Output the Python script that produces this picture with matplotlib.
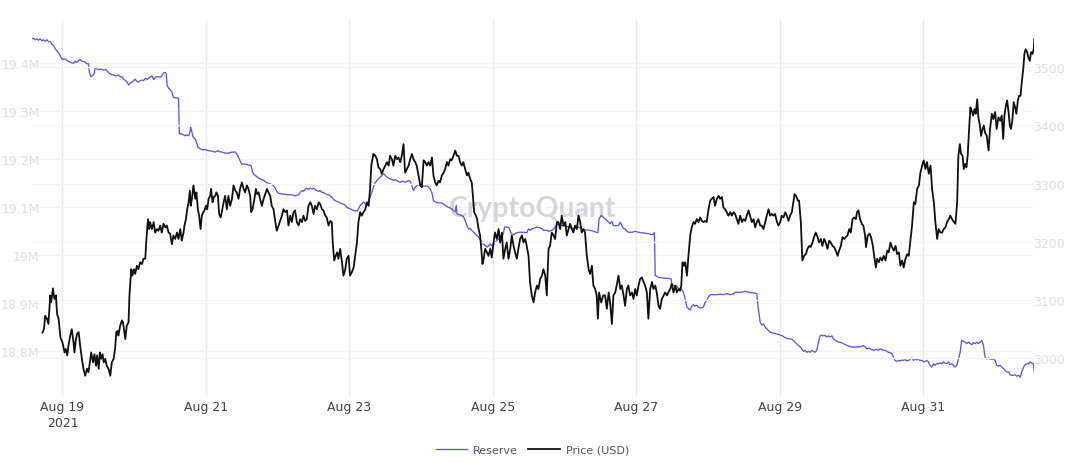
import numpy as np
import pandas as pd
import matplotlib
matplotlib.use("Agg")
import matplotlib.pyplot as plt
from matplotlib.ticker import FuncFormatter, FixedLocator

# ---------------- data ----------------
base_time = "2021-08-19 00:00"

# Price (USD): hours since Aug 19 00:00 and price
price_hours = [
    -6.7, -6.2, -5.8, -5.2, -4.7, -4.1, -3.8, -3.2, -2.7, -2.2, -1.8, -1.3, -0.7, 0.0, 0.7, 1.1, 1.6, 2.0, 2.6, 3.1,
    3.7, 4.0, 4.5, 4.9, 5.4, 5.9, 6.5, 7.0, 7.6, 8.2, 8.7, 9.3, 9.6, 10.2, 10.7, 11.2, 11.6, 12.1, 12.5, 12.9,
    13.4, 13.8, 14.3, 14.8, 15.4, 16.0, 16.5, 17.1, 17.6, 18.0, 18.4, 18.7, 19.3, 19.9, 20.2, 20.5, 21.0, 21.5, 22.1, 22.4,
    23.0, 23.4, 23.9, 24.3, 24.9, 25.4, 26.0, 26.6, 27.1, 27.7, 28.0, 28.6, 29.0, 29.3, 29.9, 30.5, 31.0, 31.6, 32.1, 32.7,
    33.2, 33.8, 34.4, 34.9, 35.5, 36.0, 36.6, 37.1, 37.7, 38.3, 38.8, 39.4, 39.9, 40.5, 40.8, 41.3, 41.7, 42.2, 42.6, 42.9,
    43.3, 43.8, 44.4, 44.8, 45.3, 45.7, 46.2, 46.6, 47.1, 47.5, 48.0, 48.4, 48.9, 49.4, 49.7, 50.2, 50.6, 51.1, 51.5, 52.0,
    52.4, 52.9, 53.3, 53.9, 54.4,
    55.0, 55.5, 56.1, 56.7, 57.2, 57.8, 58.3, 58.9, 59.4, 60.0, 60.6, 61.1, 61.7, 62.2, 62.8, 63.1, 63.6, 64.2, 64.7, 65.1,
    65.6, 66.1, 66.7, 67.3, 67.8, 68.4, 68.9, 69.5, 70.0, 70.6, 71.2, 71.7, 72.3, 72.8, 73.4, 73.9, 74.5, 75.1, 75.6, 76.2,
    76.7, 77.3, 77.8, 78.4, 79.0, 79.5, 80.1, 80.6, 81.2, 81.7, 82.3, 82.9, 83.4, 84.0, 84.5, 85.1, 85.7, 86.2, 86.8, 87.3,
    87.9, 88.4, 89.0, 89.6, 90.1, 90.4, 90.9, 91.4, 91.9, 92.3, 92.9, 93.5, 94.0, 94.6, 95.1, 95.7, 96.2, 96.8, 97.4, 97.9,
    98.5, 99.0, 99.6, 100.1, 100.7, 101.3, 101.8, 102.4, 102.9, 103.3, 104.0, 104.6, 105.2, 105.7, 106.3, 106.8, 107.4, 108.0, 108.5, 109.1,
    109.6, 110.2, 110.7, 111.3, 111.9, 112.4, 113.0, 113.5, 114.1, 114.6, 115.2, 115.8, 116.3, 116.9, 117.4,
    118.0, 118.5, 119.1, 119.7, 120.2, 120.8, 121.3, 121.9, 122.4, 123.0, 123.6, 124.1, 124.7, 125.2, 125.8, 126.3, 126.9, 127.5, 128.0, 128.6,
    129.1, 129.7, 130.2, 130.8, 131.4, 131.9, 132.5, 133.0, 133.6, 134.1, 134.7, 135.3, 135.8, 136.4, 136.9, 137.3, 137.7, 138.3, 138.7, 139.2,
    139.7, 140.1, 140.5, 140.9, 141.4, 142.0, 142.5, 143.1, 143.6, 144.2, 144.7, 145.3, 145.9, 146.4, 147.0, 147.5, 148.1, 148.6, 149.2, 149.8,
    150.3, 150.9, 151.4, 152.0, 152.5, 153.1, 153.7, 154.2, 154.8, 155.3, 155.9, 156.4, 157.0, 157.6, 158.1, 158.7, 159.2, 159.8, 160.4, 160.9,
    161.5, 162.0, 162.6, 163.1, 163.7, 164.3, 164.8, 165.4, 165.9, 166.5, 167.0, 167.6, 168.2, 168.7, 169.3, 169.8, 170.4, 170.9, 171.5, 172.1,
    172.6, 173.2, 173.7, 174.3, 174.8, 175.4, 176.0, 176.5, 177.1, 177.6, 178.2, 178.7, 179.1, 179.5, 180.2, 180.9,
    181.5, 182.1, 182.7, 183.2, 183.8, 184.3, 184.9, 185.4, 186.0, 186.6, 187.1, 187.7, 188.2, 188.8, 189.3, 189.9, 190.5, 191.0, 191.6, 192.1,
    192.7, 193.2, 193.8, 194.4, 194.9, 195.5, 196.0, 196.6, 197.2, 197.7, 198.3, 198.8, 199.4, 199.9, 200.5, 201.1, 201.6, 202.2, 202.7, 203.3,
    203.8, 204.4, 205.0, 205.5, 206.1, 206.6, 207.0, 207.4, 207.9, 208.3, 208.9, 209.4, 210.0, 210.5, 211.1, 211.6, 212.2, 212.8, 213.3, 213.9,
    214.4, 215.0, 215.5, 216.1, 216.7, 217.2, 217.8, 218.3, 218.9, 219.5, 220.0, 220.6, 221.1, 221.7, 222.2, 222.8, 223.4, 223.9, 224.5, 225.0,
    225.6, 226.1, 226.7, 227.3, 227.8, 228.4, 228.9, 229.5, 230.0, 230.6, 231.2, 231.7, 232.3, 232.8, 233.4, 233.9, 234.5, 235.1, 235.6, 236.2,
    236.7, 237.3, 237.8, 238.4, 239.0, 239.5, 240.1, 240.6, 241.2, 241.8, 242.3, 242.9, 243.4, 244.0, 244.5,
    244.9, 245.4, 246.0, 246.4, 247.0, 247.5, 248.1, 248.7, 249.2, 249.8, 250.3, 250.9, 251.4, 252.0, 252.6, 253.1, 253.7, 254.2, 254.8, 255.3,
    255.9, 256.5, 257.0, 257.6, 258.1, 258.7, 259.3, 259.8, 260.4, 260.9, 261.5, 262.0, 262.6, 263.2, 263.7, 264.3, 264.8, 265.4, 265.8, 266.3,
    266.8, 267.4, 267.9, 268.5, 268.8, 269.4, 270.0, 270.5, 271.1, 271.6, 272.1, 272.5, 273.1, 273.6, 274.2, 274.7, 275.3, 275.9, 276.4, 277.0,
    277.5, 278.1, 278.7, 279.2, 279.8, 280.3, 280.9, 281.4, 282.0, 282.6, 283.1, 283.7, 284.2, 284.8, 285.3, 285.9, 286.5, 287.0, 287.6, 288.1,
    288.7, 289.2, 289.8, 290.4, 290.9, 291.5, 292.0, 292.6, 293.1, 293.7, 294.3, 294.8, 295.4, 295.9, 296.5, 297.0, 297.6, 298.2, 298.7, 299.3,
    299.7, 300.2, 300.6, 301.1, 301.5, 302.0, 302.4, 302.8, 303.3, 303.7, 304.2, 304.6, 305.1, 305.5, 306.0, 306.4, 306.9, 307.3, 307.8, 308.2,
    308.6, 309.2, 309.8, 310.3, 310.9, 311.4, 312.0, 312.5, 313.1, 313.7, 314.2, 314.7, 315.1, 315.6, 316.0, 316.5, 316.9, 317.3, 317.8, 318.2,
    318.7, 319.1, 319.6, 320.0, 320.5, 320.9, 321.4, 321.8, 322.2, 322.7, 323.1, 323.6, 324.0, 324.5, 324.9, 325.1,
]
price_usd = [
    3044, 3050, 3073, 3068, 3059, 3108, 3096, 3120, 3102, 3108, 3076, 3068, 3036, 3027, 3010, 3016, 3005, 3022, 3039, 3050,
    3027, 3010, 3033, 3042, 3045, 3022, 2999, 2982, 2970, 2982, 2976, 2999, 3010, 2993, 3007, 2987, 3005, 2982, 3010, 2999,
    3007, 2993, 2999, 2987, 2982, 2970, 2993, 2999, 3016, 3045, 3047, 3039, 3056, 3065, 3062, 3053, 3033, 3056, 3062, 3108,
    3153, 3142, 3153, 3145, 3159, 3153, 3165, 3162, 3171, 3171, 3199, 3239, 3222, 3234, 3222, 3234, 3216, 3222, 3219, 3228,
    3216, 3231, 3225, 3228, 3216, 3214, 3196, 3211, 3205, 3216, 3205, 3222, 3202, 3216, 3228, 3239, 3256, 3268, 3288, 3262,
    3274, 3297, 3274, 3285, 3256, 3245, 3222, 3245, 3251, 3254, 3262, 3256, 3274, 3279, 3291, 3268, 3277, 3279, 3285, 3279,
    3248, 3242, 3251, 3268, 3279,
    3256, 3279, 3262, 3274, 3297, 3288, 3285, 3274, 3291, 3302, 3291, 3285, 3297, 3291, 3279, 3251, 3256, 3274, 3291, 3282,
    3285, 3274, 3262, 3274, 3282, 3291, 3285, 3279, 3262, 3256, 3234, 3219, 3228, 3236, 3245, 3256, 3251, 3254, 3228, 3245,
    3234, 3251, 3254, 3234, 3228, 3239, 3234, 3245, 3236, 3239, 3262, 3268, 3262, 3248, 3262, 3256, 3268, 3265, 3256, 3254,
    3245, 3242, 3228, 3236, 3234, 3199, 3168, 3176, 3182, 3171, 3188, 3165, 3142, 3153, 3171, 3176, 3142, 3148, 3156, 3176,
    3199, 3234, 3251, 3245, 3251, 3256, 3268, 3262, 3291, 3331, 3351, 3348, 3342, 3328, 3325, 3317, 3325, 3331, 3337, 3331,
    3348, 3342, 3331, 3348, 3342, 3345, 3337, 3348, 3368, 3319, 3325, 3331, 3342, 3351, 3342,
    3337, 3331, 3314, 3297, 3294, 3340, 3337, 3331, 3337, 3331, 3345, 3314, 3302, 3297, 3305, 3302, 3314, 3319, 3325, 3337,
    3331, 3342, 3340, 3348, 3357, 3348, 3348, 3337, 3331, 3337, 3325, 3314, 3319, 3308, 3302, 3279, 3251, 3245, 3239, 3222,
    3211, 3188, 3162, 3171, 3188, 3182, 3176, 3188, 3173, 3199, 3216, 3205, 3222, 3199, 3216, 3171, 3188, 3199, 3171, 3188,
    3211, 3193, 3182, 3171, 3188, 3205, 3211, 3199, 3205, 3193, 3176, 3131, 3108, 3096, 3113, 3125, 3119, 3136, 3142, 3153,
    3142, 3108, 3188, 3193, 3216, 3211, 3205, 3234, 3234, 3222, 3245, 3228, 3234, 3211, 3222, 3231, 3222, 3216, 3228, 3222,
    3245, 3234, 3216, 3222, 3216, 3176, 3153, 3145, 3159, 3125, 3119, 3108, 3068, 3113, 3096, 3108,
    3108, 3085, 3113, 3096, 3059, 3108, 3113, 3125, 3142, 3119, 3125, 3108, 3090, 3119, 3125, 3108, 3113, 3102, 3119, 3108,
    3125, 3136, 3139, 3131, 3125, 3113, 3068, 3119, 3131, 3119, 3125, 3113, 3090, 3085, 3102, 3108, 3113, 3108, 3113, 3119,
    3128, 3113, 3125, 3113, 3119, 3116, 3125, 3165, 3159, 3165, 3142, 3176, 3211, 3225, 3234, 3231, 3239, 3234, 3242, 3236,
    3234, 3236, 3234, 3256, 3271, 3274, 3277, 3262, 3274, 3279, 3274, 3277, 3259, 3256, 3251, 3245, 3251, 3245, 3251, 3248,
    3239, 3231, 3245, 3234, 3239, 3236, 3245, 3254, 3245, 3234, 3239, 3225, 3234, 3239, 3228, 3228, 3222, 3234, 3245, 3256,
    3245, 3248, 3245, 3248, 3234, 3228, 3234, 3245, 3242, 3251, 3245, 3236, 3245, 3251, 3268,
    3282, 3279, 3271, 3271, 3234, 3168, 3176, 3179, 3188, 3193, 3191, 3199, 3208, 3216, 3208, 3199, 3205, 3193, 3205, 3199,
    3188, 3202, 3199, 3193, 3191, 3185, 3176, 3185, 3193, 3208, 3205, 3208, 3211, 3222, 3216, 3239, 3242, 3239, 3251, 3254,
    3239, 3231, 3228, 3211, 3191, 3211, 3214, 3208, 3193, 3173, 3156, 3171, 3165, 3173, 3168, 3176, 3168, 3185, 3182, 3199,
    3191, 3185, 3193, 3179, 3182, 3159, 3168, 3156, 3171, 3179, 3176, 3205, 3228, 3268, 3265, 3291, 3297, 3319, 3331, 3340,
    3325, 3337, 3317, 3331, 3291, 3268, 3234, 3205, 3222, 3216, 3216, 3222, 3225, 3234, 3239, 3245, 3239, 3234, 3231, 3268,
    3348, 3368, 3351, 3348, 3325, 3334, 3328, 3348, 3394, 3431, 3425, 3417, 3428, 3420, 3445, 3414, 3400, 3382, 3394, 3400,
    3388, 3382, 3357, 3394, 3420, 3411, 3423, 3394, 3414, 3408, 3417, 3377, 3417, 3434, 3443, 3423, 3400, 3394, 3411, 3440,
    3431, 3420, 3443, 3451, 3451, 3474, 3497, 3523, 3531, 3526, 3517, 3511, 3526, 3523, 3531, 3548,
]

# Reserve (millions): hours since Aug 19 00:00 and reserve
reserve_hours = [
    -10.3, -9.7, -9.1, -8.6, -8.0, -7.5, -6.9, -6.4, -5.8, -5.2, -4.7, -4.1, -3.6, -3.0, -2.5, -1.9, -1.3, -0.8, -0.2, 0.3,
    0.9, 1.5, 2.0, 2.6, 3.1, 3.7, 4.3, 4.8, 5.4, 5.9, 6.5, 7.0, 7.6, 8.2, 8.7, 9.0, 9.5, 10.0, 10.6, 10.9,
    11.5, 12.1, 12.6, 13.2, 13.7, 14.3, 14.8, 15.4, 16.0, 16.5, 17.1, 17.6, 18.2, 18.7, 19.3, 19.9, 20.4, 21.0, 21.5, 22.1,
    22.6, 23.2, 23.8, 24.3, 24.9, 25.4, 26.0, 26.6, 27.1, 27.7, 28.2, 28.8, 29.3, 29.9, 30.5, 31.0, 31.6, 32.1, 32.7, 33.2,
    33.8, 34.4, 34.7, 35.0, 35.5, 36.0, 36.6, 37.1, 37.7, 38.3, 38.8, 39.1, 39.9, 40.5, 41.0, 41.6, 42.2, 42.6, 42.9, 43.3,
    43.7, 44.4, 44.8, 45.3, 46.0, 46.6, 47.7, 48.9, 50.0, 51.1, 52.0, 52.4, 53.3, 54.4, 55.5, 56.7, 57.8, 58.3, 58.9, 59.4,
    60.0, 61.1, 62.2, 63.1, 63.6, 64.1, 65.0, 66.1, 67.3, 68.4, 69.5, 70.6, 71.2, 71.7, 72.3, 73.4, 74.5, 75.6, 76.7, 77.8,
    79.0, 79.5, 80.1, 80.6, 81.2, 81.7, 82.3, 82.9, 83.4, 84.0, 84.5, 85.1, 85.7, 86.2, 86.8, 87.3, 87.9, 88.4, 89.0, 89.6,
    90.1, 90.7, 91.2, 91.8, 92.3, 92.9, 93.5, 94.0, 94.6, 95.1, 95.7, 96.2, 96.8, 97.4, 97.9, 98.5, 99.0, 99.6, 100.1, 100.7,
    101.3, 101.8, 102.4, 102.9, 103.5, 104.0, 104.6, 105.2, 105.7, 106.3, 106.8, 107.4, 108.0, 108.5, 109.1, 109.6, 110.2, 110.7, 111.3, 111.9,
    112.4, 113.0, 113.5, 114.1, 114.6, 115.2, 115.8, 116.3, 116.9, 117.4, 118.0, 118.5, 119.1, 120.2, 121.3, 121.9, 122.4, 123.0, 123.6, 124.1,
    124.7, 125.8, 126.9, 128.0, 129.1, 130.2, 130.8, 131.4, 131.7, 132.0, 133.0, 134.1, 134.7, 135.3, 135.8, 136.4, 136.9, 137.5, 138.1, 138.6,
    139.2, 139.7, 140.3, 140.8, 141.4, 142.0, 142.5, 143.1, 143.6, 144.2, 144.7, 145.3, 145.9, 146.4, 147.0, 147.5, 147.9, 148.6, 149.4, 150.1,
    150.9, 152.0, 153.1, 154.2, 155.3, 155.9, 156.4, 157.0, 157.6, 158.7, 159.8, 160.4, 160.9, 162.0, 162.6, 163.7, 164.3, 164.8, 165.4, 165.9,
    167.0, 168.2, 169.3, 170.4, 170.9, 171.5, 172.6, 173.7, 174.8, 175.4, 176.5, 177.6, 179.1, 179.5, 180.2, 181.0, 181.5, 182.1, 182.7, 183.2,
    183.8, 184.3, 184.9, 185.4, 186.0, 186.6, 187.1, 187.7, 188.2, 188.8, 189.3, 190.5, 191.6, 192.7, 193.8, 194.9, 196.0, 197.2, 197.7, 198.0,
    198.3, 199.4, 200.5, 201.6, 202.7, 203.6, 203.8, 204.4, 205.0, 205.5, 206.1, 206.6, 207.2, 207.7, 208.3, 208.9, 209.4, 210.0, 210.5, 211.1,
    211.6, 212.2, 212.8, 213.3, 213.9, 214.4, 215.0, 215.5, 216.1, 216.7, 217.8, 218.9, 220.0, 221.1, 222.2, 223.4, 224.5, 225.0, 226.1, 227.3,
    228.4, 229.5, 230.6, 231.7, 232.3, 232.6, 233.1, 233.4, 233.9, 234.5, 235.1, 235.6, 236.2, 236.7, 237.3, 238.4, 239.5, 240.6, 241.8, 242.9,
    244.0, 245.1, 245.6, 246.2, 246.8, 247.3, 247.9, 248.4, 249.0, 249.6, 250.1, 250.7, 251.2, 251.8, 252.3, 252.9, 253.5, 254.0, 254.6, 255.1,
    255.7, 256.2, 256.8, 257.4, 257.9, 258.5, 259.6, 260.7, 261.8, 262.9, 264.0, 265.2, 266.3, 267.4, 267.9, 268.5, 269.1, 269.6, 270.2, 270.7,
    271.3, 271.9, 272.4, 273.0, 273.5, 274.1, 274.6, 275.2, 275.8, 276.3, 276.9, 277.4, 278.0, 278.5, 279.1, 279.7, 280.2, 280.8, 281.3, 281.9,
    282.4, 283.0, 283.6, 284.1, 284.7, 285.2, 285.8, 286.3, 286.9, 287.5, 288.0, 288.6, 289.1, 289.7, 290.2, 290.8, 291.4, 291.9, 292.5, 293.0,
    293.6, 294.2, 294.7, 295.3, 295.8, 296.4, 296.9, 297.5, 298.1, 298.6, 299.2, 299.7, 300.3, 300.8, 301.4, 302.0, 302.5, 303.1, 303.6, 304.2,
    304.7, 305.3, 305.9, 306.4, 307.0, 307.5, 308.1, 308.6, 309.2, 309.8, 310.3, 310.9, 311.4, 312.0, 312.5, 313.1, 313.7, 314.2, 314.8, 315.3,
    315.9, 316.5, 317.0, 317.6, 318.1, 318.7, 319.2, 319.8, 320.4, 320.9, 321.5, 322.0, 322.6, 323.1, 323.7, 324.3, 324.8, 325.1,
]
reserve_m = [
    19.451, 19.452, 19.449, 19.451, 19.448, 19.451, 19.447, 19.449, 19.446, 19.449, 19.445, 19.445, 19.440, 19.437, 19.431, 19.426, 19.422, 19.416, 19.409, 19.408,
    19.409, 19.406, 19.404, 19.402, 19.401, 19.400, 19.404, 19.402, 19.406, 19.408, 19.404, 19.404, 19.402, 19.399, 19.399, 19.381, 19.372, 19.374, 19.378, 19.390,
    19.388, 19.387, 19.388, 19.387, 19.386, 19.387, 19.385, 19.381, 19.378, 19.376, 19.376, 19.374, 19.374, 19.376, 19.372, 19.372, 19.367, 19.364, 19.362, 19.355,
    19.358, 19.361, 19.364, 19.367, 19.362, 19.361, 19.364, 19.365, 19.364, 19.369, 19.366, 19.369, 19.371, 19.374, 19.366, 19.371, 19.372, 19.372, 19.371, 19.374,
    19.380, 19.381, 19.378, 19.354, 19.348, 19.345, 19.340, 19.329, 19.328, 19.328, 19.327, 19.253, 19.253, 19.251, 19.249, 19.251, 19.249, 19.256, 19.267, 19.256,
    19.246, 19.242, 19.236, 19.225, 19.222, 19.220, 19.220, 19.218, 19.217, 19.215, 19.218, 19.216, 19.215, 19.213, 19.213, 19.215, 19.215, 19.211, 19.204, 19.197,
    19.190, 19.190, 19.188, 19.187, 19.173, 19.168, 19.164, 19.159, 19.156, 19.151, 19.149, 19.145, 19.140, 19.133, 19.129, 19.128, 19.127, 19.126, 19.126, 19.124,
    19.126, 19.131, 19.135, 19.133, 19.138, 19.140, 19.137, 19.140, 19.138, 19.140, 19.137, 19.135, 19.133, 19.135, 19.131, 19.131, 19.128, 19.127, 19.126, 19.124,
    19.121, 19.116, 19.114, 19.112, 19.111, 19.109, 19.107, 19.107, 19.104, 19.100, 19.098, 19.097, 19.095, 19.093, 19.093, 19.092, 19.097, 19.104, 19.107, 19.111,
    19.107, 19.104, 19.114, 19.121, 19.131, 19.142, 19.151, 19.156, 19.159, 19.163, 19.166, 19.170, 19.166, 19.163, 19.161, 19.159, 19.158, 19.156, 19.158, 19.155,
    19.154, 19.152, 19.154, 19.154, 19.152, 19.154, 19.156, 19.154, 19.145, 19.135, 19.142, 19.145, 19.147, 19.145, 19.144, 19.145, 19.142, 19.138, 19.130, 19.114,
    19.111, 19.109, 19.109, 19.104, 19.100, 19.097, 19.093, 19.091, 19.104, 19.086, 19.084, 19.081, 19.072, 19.062, 19.055, 19.056, 19.052, 19.048, 19.045, 19.041,
    19.038, 19.033, 19.027, 19.024, 19.020, 19.017, 19.020, 19.024, 19.020, 19.022, 19.027, 19.031, 19.034, 19.036, 19.038, 19.045, 19.059, 19.059, 19.057, 19.045,
    19.043, 19.047, 19.048, 19.048, 19.047, 19.055, 19.052, 19.055, 19.056, 19.059, 19.057, 19.055, 19.052, 19.052, 19.050, 19.052, 19.055, 19.059, 19.065, 19.065,
    19.062, 19.061, 19.059, 19.057, 19.055, 19.057, 19.059, 19.055, 19.052, 19.053, 19.052, 19.050, 19.047, 19.076, 19.083, 19.079, 19.076, 19.072, 19.069, 19.066,
    19.070, 19.062, 19.061, 19.062, 19.062, 19.069, 19.062, 19.056, 19.055, 19.050, 19.048, 19.048, 19.050, 19.048, 19.047, 19.046, 19.045, 19.043, 19.045, 19.047,
    18.958, 18.954, 18.953, 18.952, 18.952, 18.951, 18.941, 18.937, 18.934, 18.936, 18.930, 18.930, 18.929, 18.923, 18.909, 18.892, 18.889, 18.886, 18.894, 18.897,
    18.894, 18.896, 18.892, 18.890, 18.891, 18.892, 18.902, 18.906, 18.913, 18.918, 18.918, 18.918, 18.919, 18.918, 18.920, 18.918, 18.920, 18.923, 18.923, 18.923,
    18.925, 18.923, 18.922, 18.921, 18.920, 18.896, 18.875, 18.861, 18.855, 18.857, 18.850, 18.847, 18.843, 18.840, 18.839, 18.837, 18.835, 18.833, 18.828, 18.826,
    18.825, 18.819, 18.816, 18.812, 18.809, 18.805, 18.800, 18.802, 18.798, 18.800, 18.798, 18.802, 18.800, 18.798, 18.802, 18.819, 18.833, 18.834, 18.832, 18.833,
    18.830, 18.832, 18.830, 18.832, 18.826, 18.823, 18.819, 18.818, 18.814, 18.811, 18.809, 18.809, 18.809, 18.810, 18.812, 18.809, 18.805, 18.807, 18.805, 18.804,
    18.802, 18.803, 18.804, 18.802, 18.805, 18.804, 18.802, 18.802, 18.800, 18.798, 18.797, 18.795, 18.788, 18.781, 18.779, 18.781, 18.780, 18.782, 18.781, 18.783,
    18.780, 18.781, 18.784, 18.786, 18.781, 18.784, 18.782, 18.783, 18.781, 18.781, 18.779, 18.778, 18.781, 18.778, 18.771, 18.767, 18.774, 18.771, 18.775, 18.774,
    18.776, 18.774, 18.778, 18.775, 18.774, 18.778, 18.772, 18.774, 18.771, 18.767, 18.771, 18.784, 18.798, 18.823, 18.821, 18.819, 18.816, 18.819, 18.816, 18.814,
    18.818, 18.816, 18.819, 18.816, 18.819, 18.823, 18.812, 18.788, 18.784, 18.786, 18.784, 18.783, 18.784, 18.781, 18.771, 18.769, 18.771, 18.767, 18.764, 18.760,
    18.757, 18.757, 18.751, 18.750, 18.750, 18.751, 18.748, 18.750, 18.746, 18.757, 18.767, 18.772, 18.774, 18.774, 18.778, 18.775, 18.774, 18.757,
]

reserve_ticks_m = [18.8, 18.9, 19.0, 19.1, 19.2, 19.3, 19.4]
price_ticks = [3000, 3100, 3200, 3300, 3400, 3500]
date_ticks = ["2021-08-19", "2021-08-21", "2021-08-23", "2021-08-25", "2021-08-27", "2021-08-29", "2021-08-31"]
date_tick_labels = ["Aug 19\n2021", "Aug 21", "Aug 23", "Aug 25", "Aug 27", "Aug 29", "Aug 31"]
series_names = ["Reserve", "Price (USD)"]
watermark = "CryptoQuant"

# ---------------- plot ----------------
plt.rcParams["font.family"] = ["DejaVu Sans"]

W, H = 1066, 464
fig = plt.figure(figsize=(W / 100, H / 100), dpi=100)
fig.patch.set_facecolor("white")

left_px, right_px, top_px, bottom_px = 31.7, 1034.3, 20.0, 396.7
ax1 = fig.add_axes([left_px / W, 1 - bottom_px / H, (right_px - left_px) / W, (bottom_px - top_px) / H])
ax2 = ax1.twinx()

t0 = pd.Timestamp(base_time)
r_times = t0 + pd.to_timedelta(np.array(reserve_hours), unit="h")
p_times = t0 + pd.to_timedelta(np.array(price_hours), unit="h")

reserve_color = "#5b57f2"
price_color = "#111111"

l1, = ax1.plot(r_times, reserve_m, color=reserve_color, lw=0.95, zorder=3, label=series_names[0])
l2, = ax2.plot(p_times, price_usd, color=price_color, lw=1.3, zorder=3, label=series_names[1])

ax1.set_xlim(r_times[0], r_times[-1])
ax1.set_ylim(18.7075, 19.4923)
ax2.set_ylim(2935.7, 3582.9)

# ticks / labels
ax1.set_xticks(pd.to_datetime(date_ticks))
ax1.set_xticklabels(date_tick_labels)
for lab in ax1.get_xticklabels():
    lab.set_linespacing(1.35)
ax1.tick_params(axis="x", length=0, pad=3, labelsize=9, labelcolor="#444444")

# left labels: kept fully inside the figure (they slightly enter the plot area)
ax1.yaxis.set_major_locator(FixedLocator(reserve_ticks_m))
ax1.yaxis.set_major_formatter(FuncFormatter(lambda v, p: f"{v:g}M"))
ax1.tick_params(axis="y", length=0, pad=-5.7, labelsize=9, labelcolor="#dddde6")

ax2.yaxis.set_major_locator(FixedLocator(price_ticks))
ax2.yaxis.set_major_formatter(FuncFormatter(lambda v, p: f"{int(v)}"))
ax2.tick_params(axis="y", length=0, pad=-0.6, labelsize=9, labelcolor="#dddde6")

# grids
ax1.grid(axis="x", color="#ebebeb", lw=1.0, zorder=0)
ax1.grid(axis="y", color="#f5f5f7", lw=1.0, zorder=0)
ax2.grid(axis="y", color="#f5f5f7", lw=1.0, zorder=0)
ax1.set_axisbelow(True)
ax2.set_axisbelow(True)

for ax in (ax1, ax2):
    for s in ax.spines.values():
        s.set_visible(False)
ax2.patch.set_visible(False)

# watermark
ax1.text(532.5 / W, 1 - 216.7 / H, watermark, transform=fig.transFigure, ha="center", va="baseline",
         fontsize=20.4, fontweight="bold", color="#d5d5df", zorder=1, family=["Lato", "DejaVu Sans"])

# legend
fig.legend(handles=[l1, l2], labels=series_names, loc="center", bbox_to_anchor=(0.4994, 1 - 450.7 / H),
           ncol=2, frameon=False, fontsize=8, labelcolor="#555555", handlelength=2.8,
           handletextpad=0.55, columnspacing=0.95, borderpad=0, borderaxespad=0)

fig.savefig("out.png", dpi=100, facecolor="white")
